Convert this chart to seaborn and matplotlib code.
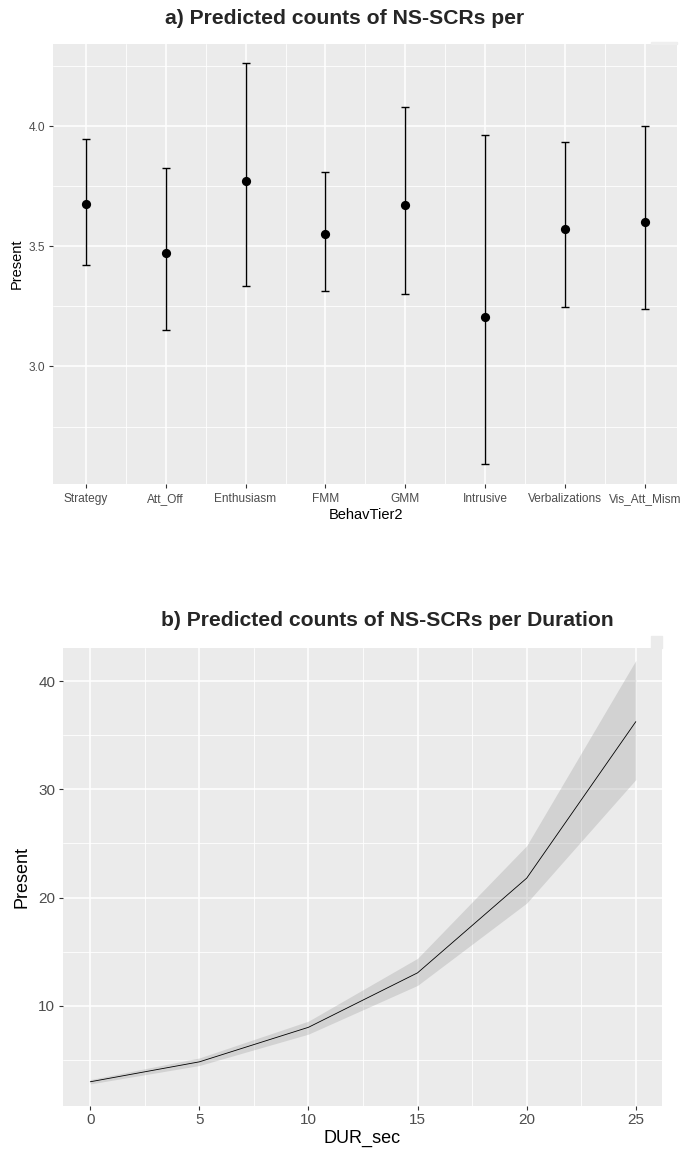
import matplotlib
matplotlib.use("Agg")
import matplotlib.pyplot as plt
from matplotlib.patches import Rectangle
from matplotlib.ticker import FixedLocator
import seaborn as sns
import pandas as pd

# Panel a: predicted NS-SCR counts per behaviour category (estimate + CI)
categories = ["Strategy", "Att_Off", "Enthusiasm", "FMM", "GMM",
              "Intrusive", "Verbalizations", "Vis_Att_Mism"]
predicted = [3.675, 3.473, 3.773, 3.552, 3.670, 3.207, 3.573, 3.602]
ci_low = [3.424, 3.150, 3.336, 3.315, 3.302, 2.594, 3.247, 3.239]
ci_high = [3.947, 3.825, 4.264, 3.809, 4.078, 3.964, 3.933, 4.001]

# Panel b: predicted NS-SCR counts per duration (seconds)
dur_sec = [0, 5, 10, 15, 20, 25]
dur_pred = [3.0, 4.84, 8.03, 13.06, 21.8, 36.25]
dur_low = [2.8, 4.5, 7.4, 11.9, 19.5, 30.9]
dur_high = [3.2, 5.2, 8.6, 14.4, 24.8, 41.9]

PANEL = "#EBEBEB"
TICKTXT = "#4D4D4D"

sns.set_theme(style="darkgrid", rc={
    "axes.facecolor": PANEL,
    "figure.facecolor": "white",
    "grid.color": "white",
    "axes.edgecolor": PANEL,
})
plt.rcParams["font.family"] = ["Liberation Sans", "DejaVu Sans"]

W, H = 682, 1151
fig = plt.figure(figsize=(W / 100, H / 100), dpi=100)

ax1 = fig.add_axes([53 / W, 1 - 484 / H, (677 - 53) / W, (484 - 44) / H])
ax2 = fig.add_axes([63 / W, 1 - 1105.7 / H, (662 - 63) / W, (1105.7 - 648) / H])

# ---------- panel a ----------
df_a = pd.DataFrame({"BehavTier2": categories, "Present": predicted,
                     "low": ci_low, "high": ci_high})
xpos = list(range(len(categories)))
ax1.errorbar(xpos, df_a["Present"],
             yerr=[df_a["Present"] - df_a["low"], df_a["high"] - df_a["Present"]],
             fmt="none", ecolor="black", elinewidth=1.0, capsize=3.2,
             capthick=1.0, zorder=3)
sns.scatterplot(data=df_a, x="BehavTier2", y="Present", ax=ax1, color="black",
                s=44, edgecolor="black", linewidth=0, zorder=4)
ax1.set_xlim(-0.41, 7.4)
ax1.set_ylim(2.511, 4.342)
ax1.set_yticks([3.0, 3.5, 4.0], ["3.0", "3.5", "4.0"])
ax1.yaxis.set_minor_locator(FixedLocator([2.75, 3.25, 3.75, 4.25]))
ax1.set_xticks(xpos, categories, va="baseline")
ax1.xaxis.set_minor_locator(FixedLocator([i + 0.5 for i in range(7)]))
ax1.set_xlabel("BehavTier2", fontsize=10.5, color="black")
ax1.set_ylabel("Present", fontsize=10.5, color="black")
ax1.xaxis.set_label_coords(0.5016, -0.0705)
ax1.yaxis.set_label_coords(-0.0577, 0.5)
ax1.xaxis.label.set_va("center")
ax1.yaxis.label.set_va("center")
ax1.tick_params(axis="y", which="major", labelsize=8.6, labelcolor=TICKTXT,
                length=3.0, width=0.8, color="#333333", pad=2.5, left=True)
ax1.tick_params(axis="x", which="major", labelsize=8.6, labelcolor=TICKTXT,
                length=3.0, width=0.8, color="#333333", pad=10.2, bottom=True)
ax1.tick_params(axis="both", which="minor", length=0)

# ---------- panel b ----------
df_b = pd.DataFrame({"DUR_sec": dur_sec, "Present": dur_pred,
                     "low": dur_low, "high": dur_high})
ax2.fill_between(df_b["DUR_sec"], df_b["low"], df_b["high"],
                 color="#999999", alpha=0.3, linewidth=0, zorder=2)
sns.lineplot(data=df_b, x="DUR_sec", y="Present", ax=ax2, color="black",
             linewidth=0.6, zorder=3)
ax2.set_xlim(-1.25, 26.2)
ax2.set_ylim(0.79, 43.05)
ax2.xaxis.set_major_locator(FixedLocator(dur_sec))
ax2.xaxis.set_minor_locator(FixedLocator([2.5, 7.5, 12.5, 17.5, 22.5]))
ax2.yaxis.set_major_locator(FixedLocator([10, 20, 30, 40]))
ax2.yaxis.set_minor_locator(FixedLocator([5, 15, 25, 35]))
ax2.set_xlabel("DUR_sec", fontsize=13, color="black")
ax2.set_ylabel("Present", fontsize=13, color="black")
ax2.xaxis.set_label_coords(0.499, -0.0706)
ax2.yaxis.set_label_coords(-0.068, 0.5)
ax2.xaxis.label.set_va("center")
ax2.yaxis.label.set_va("center")
ax2.tick_params(axis="both", which="major", labelsize=11, labelcolor=TICKTXT,
                length=3.0, width=0.8, color="#333333", pad=2.5, bottom=True, left=True)
ax2.tick_params(axis="both", which="minor", length=0)

for ax in (ax1, ax2):
    ax.grid(True, which="major", color="white", linewidth=1.1)
    ax.grid(True, which="minor", color="white", linewidth=0.6)
    ax.set_axisbelow(True)
    for s in ax.spines.values():
        s.set_visible(False)

# small panel-coloured tabs along the upper right corners
fig.patches.append(Rectangle((651 / W, 1 - 44 / H), 26 / W, 2 / H,
                             transform=fig.transFigure, color="#EFEFEF", zorder=0))
fig.patches.append(Rectangle((651 / W, 1 - 648 / H), 11 / W, 12 / H,
                             transform=fig.transFigure, color=PANEL, zorder=0))

fig.text(345 / W, 1 - 18 / H, "a) Predicted counts of NS-SCRs per",
         ha="center", va="center", fontsize=15.2, fontweight="bold")
fig.text(387 / W, 1 - 620 / H, "b) Predicted counts of NS-SCRs per Duration",
         ha="center", va="center", fontsize=15.2, fontweight="bold")

fig.savefig("out.png", dpi=100)
